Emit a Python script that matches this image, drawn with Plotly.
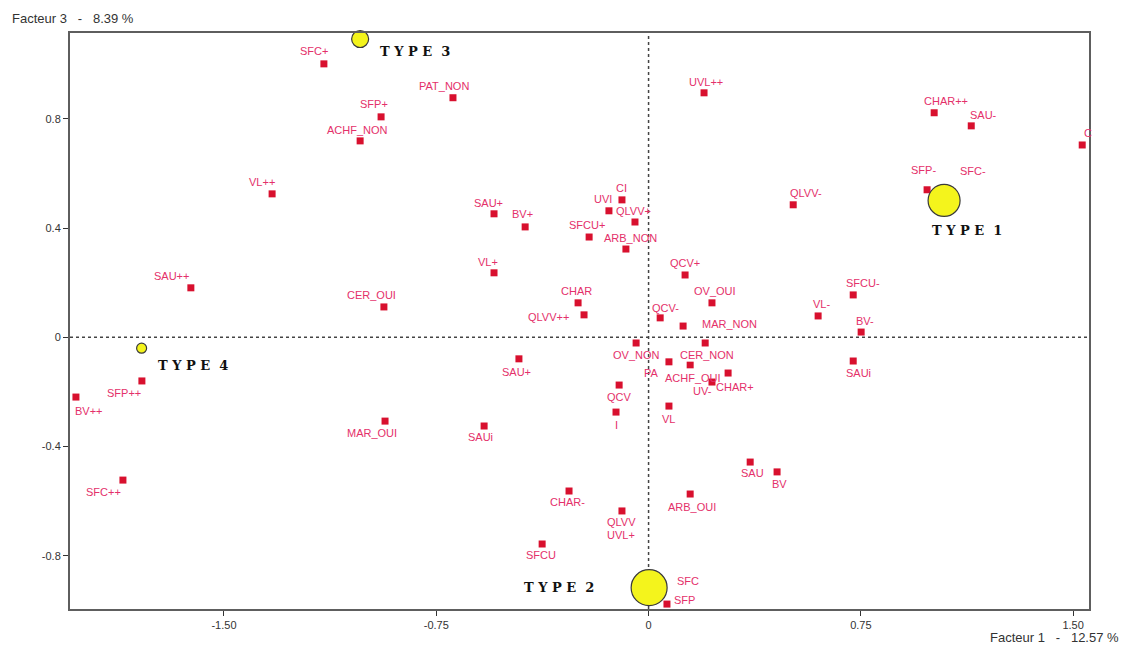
import plotly.graph_objects as go

# Modalities projected on factors 1 and 3
labels = [
    "SFC+", "SFP+", "ACHF_NON", "VL++", "PAT_NON", "UVL++", "CHAR++", "SAU-", "C",
    "SFP-", "SFC-", "QLVV-", "SAU+", "BV+", "CI", "UVI", "QLVV+", "SFCU+", "ARB_NON",
    "VL+", "CHAR", "QLVV++", "QCV+", "OV_OUI", "QCV-", "MAR_NON", "OV_NON", "CER_NON",
    "PA", "ACHF_OUI", "CHAR+", "UV-", "QCV", "I", "VL", "SAU+", "SAUi", "SAU++",
    "CER_OUI", "SFP++", "BV++", "MAR_OUI", "SFC++", "CHAR-", "QLVV", "UVL+", "SFCU",
    "ARB_OUI", "SAU", "BV", "SFP", "SFC", "SFCU-", "VL-", "BV-", "SAUi",
]
f1 = [
    -1.147, -0.945, -1.019, -1.330, -0.691, 0.196, 1.009, 1.140, 1.532,
    0.984, 1.072, 0.511, -0.546, -0.436, -0.094, -0.140, -0.048, -0.210, -0.080,
    -0.546, -0.249, -0.228, 0.129, 0.224, 0.041, 0.122, -0.044, 0.200,
    0.072, 0.147, 0.281, 0.224, -0.104, -0.115, 0.072, -0.458, -0.581, -1.617,
    -0.935, -1.790, -2.023, -0.931, -1.857, -0.281, -0.094, -0.094, -0.376,
    0.147, 0.359, 0.454, 0.065, 0.034, 0.723, 0.599, 0.751, 0.723,
]
f3 = [
    1.001, 0.807, 0.719, 0.525, 0.877, 0.895, 0.822, 0.774, 0.704,
    0.540, 0.532, 0.485, 0.452, 0.404, 0.503, 0.463, 0.422, 0.367, 0.323,
    0.236, 0.126, 0.082, 0.228, 0.126, 0.071, 0.041, -0.021, -0.021,
    -0.090, -0.101, -0.131, -0.164, -0.175, -0.274, -0.252, -0.079, -0.325, 0.181,
    0.111, -0.160, -0.219, -0.307, -0.523, -0.563, -0.636, -0.684, -0.757,
    -0.574, -0.457, -0.493, -0.977, -0.918, 0.155, 0.078, 0.019, -0.087,
]

# Farm types (cluster centres)
type_names = ["TYPE 1", "TYPE 2", "TYPE 3", "TYPE 4"]
type_f1 = [1.044, 0.002, -1.019, -1.791]
type_f3 = [0.501, -0.917, 1.092, -0.040]

x_ticks = [-1.5, -0.75, 0, 0.75, 1.5]
x_ticktext = ["-1.50", "-0.75", "0", "0.75", "1.50"]
y_ticks = [-0.8, -0.4, 0, 0.4, 0.8]
y_ticktext = ["-0.8", "-0.4", "0", "0.4", "0.8"]

x_range = [-2.044, 1.556]
y_range = [-0.995, 1.114]

# Label placement (pixel shifts from each marker)
label_shift = [
    (-10, 13), (-7, 13), (-3, 11), (-10, 12), (-9, 12), (2, 11), (12, 12), (12, 11), (6, 12),
    (-4, 20), (21, 21), (13, 12), (-6, 11), (-3, 13), (0, 12), (-6, 12), (-1, 11), (-2, 12), (5, 11),
    (-6, 11), (-2, 12), (-36, -2), (0, 12), (3, 12), (5, 10), (46, 2), (0, -12), (2, -12),
    (-17, -11), (3, -13), (7, -14), (-9, -9), (0, -12), (0, -13), (0, -13), (-2, -13), (-4, -11), (-19, 12),
    (-12, 12), (-18, -12), (13, -14), (-13, -12), (-19, -12), (-2, -11), (0, -11), (-1, -11), (-1, -11),
    (2, -13), (2, -11), (2, -12), (18, 4), (30, 7), (10, 12), (3, 12), (4, 11), (5, -12),
]
opaque_labels = {"QLVV", "CER_NON"}

type_sizes = [32, 36, 17, 10]
type_shift = [(23, -30), (-90, 0), (55, -12), (51, -17)]

TEXT_RED = "#e4306a"
MARK_RED = "#d8102e"
AXIS_GREY = "#5e5e5e"

fig = go.Figure()

fig.add_trace(go.Scatter(
    x=f1, y=f3, mode="markers",
    marker=dict(symbol="square", size=7, color=MARK_RED, opacity=1),
    hovertext=labels, showlegend=False, cliponaxis=False,
))

fig.add_trace(go.Scatter(
    x=type_f1, y=type_f3, mode="markers",
    marker=dict(size=type_sizes, color="#f4f41c", opacity=1,
                line=dict(color="#3a3a3a", width=1.2)),
    hovertext=type_names, showlegend=False, cliponaxis=False,
))

annotations = []
for name, x, y, (dx, dy) in zip(labels, f1, f3, label_shift):
    annotations.append(dict(
        x=x, y=y, xref="x", yref="y", text=name, showarrow=False,
        xshift=dx, yshift=dy, xanchor="center", yanchor="middle",
        font=dict(family="Liberation Sans, Arial, sans-serif", size=11, color=TEXT_RED),
        bgcolor="white" if name in opaque_labels else "rgba(0,0,0,0)", borderpad=0,
    ))

for name, x, y, (dx, dy) in zip(type_names, type_f1, type_f3, type_shift):
    spaced = " ".join(name.split(" ")[0]) + "  " + name.split(" ")[1]
    annotations.append(dict(
        x=x, y=y, xref="x", yref="y", text="<b>" + spaced + "</b>", showarrow=False,
        xshift=dx, yshift=dy, xanchor="center", yanchor="middle",
        font=dict(family="DejaVu Serif, serif", size=13, color="#111111"),
    ))

# Axis titles
annotations.append(dict(
    x=-0.059, y=1.026, xref="paper", yref="paper", text="Facteur 3   -   8.39 %",
    showarrow=False, xanchor="left", yanchor="middle",
    font=dict(family="Liberation Sans, Arial, sans-serif", size=13, color="#333333"),
))
annotations.append(dict(
    x=1.031, y=-0.050, xref="paper", yref="paper", text="Facteur 1   -   12.57 %",
    showarrow=False, xanchor="right", yanchor="middle",
    font=dict(family="Liberation Sans, Arial, sans-serif", size=13, color="#333333"),
))

# Dotted origin lines
shapes = [
    dict(type="line", xref="x", yref="y", x0=0, x1=0, y0=y_range[0], y1=y_range[1],
         line=dict(color="#444444", width=1.5, dash="dot"), layer="below"),
    dict(type="line", xref="x", yref="y", x0=x_range[0], x1=x_range[1], y0=0, y1=0,
         line=dict(color="#444444", width=1.5, dash="dot"), layer="below"),
]

axis_common = dict(
    showgrid=False, zeroline=False, showline=True, mirror=True,
    linecolor=AXIS_GREY, linewidth=2, ticks="outside", ticklen=5,
    tickcolor="#333333", tickwidth=1,
    tickfont=dict(family="Liberation Sans, Arial, sans-serif", size=11, color="#333333"),
)

fig.update_layout(
    width=1133, height=649,
    margin=dict(l=70, r=44, t=33, b=40),
    paper_bgcolor="white", plot_bgcolor="white",
    xaxis=dict(range=x_range, tickvals=x_ticks, ticktext=x_ticktext, **axis_common),
    yaxis=dict(range=y_range, tickvals=y_ticks, ticktext=y_ticktext, **axis_common),
    annotations=annotations, shapes=shapes,
)

fig.write_html("out.html")
